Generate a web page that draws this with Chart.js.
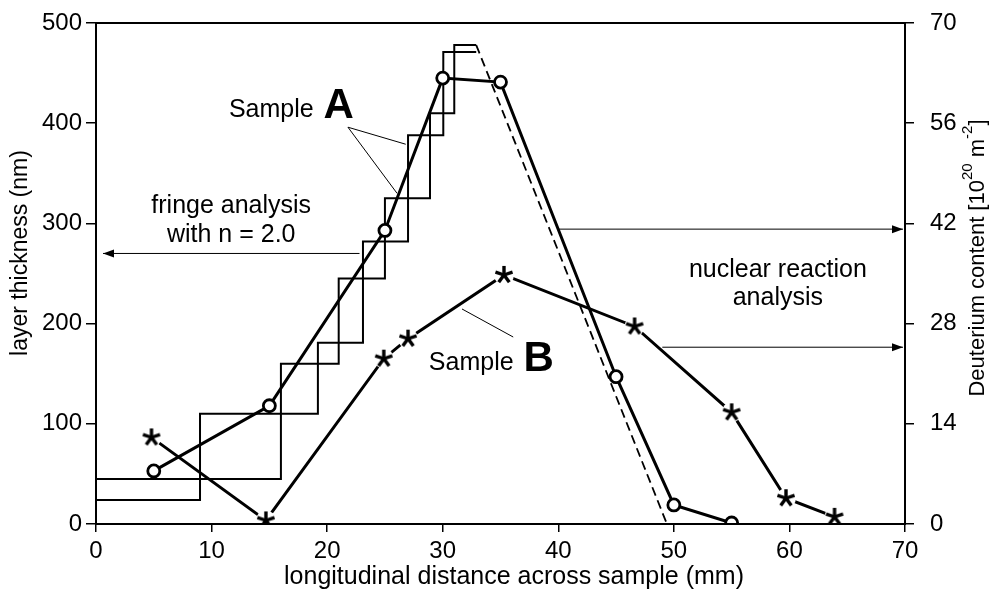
<!DOCTYPE html>
<html>
<head>
<meta charset="utf-8">
<script src="https://cdn.jsdelivr.net/npm/chart.js@4.4.0/dist/chart.umd.min.js"></script>
<style>
    html, body { margin: 0; padding: 0; background: #fff; }
    canvas { display: block; }
</style>
</head>
<body>
<canvas id="grafico" width="999" height="590"></canvas>
<script>
// degraus da analise de franjas (nm)
const bordasDegrauA = [0, 9, 19.2, 23.1, 27.0, 30.05, 32.9];
const niveisDegrauA = [24, 110, 181, 282, 388, 471];
const bordasDegrauB = [0, 16, 21, 25, 28.9, 31, 32.9];
const niveisDegrauB = [45, 160, 245, 325, 410, 478];

// flanco tracejado
const tracejadoX = [32.9, 49.4];
const tracejadoY = [478, 0];

// amostra A, espessura (nm)
const circulosX = [5, 15, 25, 30, 35, 45, 50, 55];
const circulosY = [53, 118, 293, 445, 441, 147, 19, 1];

// amostra B, deuterio (10^20 m^-2)
const estrelasX = [4.8, 14.7, 24.9, 27.0, 35.3, 46.6, 55.0, 59.7, 63.9];
const estrelasD = [12.1, 0.5, 23.1, 25.9, 34.8, 27.6, 15.6, 3.6, 1.0];

const ticksX = [0, 10, 20, 30, 40, 50, 60, 70];
const ticksEsquerda = [0, 100, 200, 300, 400, 500];
const ticksDireita = [0, 14, 28, 42, 56, 70];

const FONTE = '"Liberation Sans", Arial, Helvetica, sans-serif';

function pontosDegrau(bordas, niveis) {
    const pts = niveis.map((n, i) => ({ x: bordas[i], y: n }));
    pts.push({ x: bordas[bordas.length - 1], y: niveis[niveis.length - 1] });
    return pts;
}

function juntar(xs, ys) {
    return xs.map((x, i) => ({ x: x, y: ys[i] }));
}

function criarEstrela(tam, esp) {
    const c = document.createElement('canvas');
    c.width = tam;
    c.height = tam;
    const g = c.getContext('2d');
    g.strokeStyle = '#000';
    g.lineWidth = esp;
    const r = tam / 2;
    for (let k = 0; k < 5; k++) {
        const ang = -Math.PI / 2 + k * 2 * Math.PI / 5;
        g.beginPath();
        g.moveTo(r, r);
        g.lineTo(r + Math.cos(ang) * (r - 1), r + Math.sin(ang) * (r - 1));
        g.stroke();
    }
    return c;
}

const estrela = criarEstrela(20, 3.4);

function seta(ctx, x1, y1, x2, y2) {
    ctx.beginPath();
    ctx.moveTo(x1, y1);
    ctx.lineTo(x2, y2);
    ctx.stroke();
    const dir = Math.sign(x2 - x1);
    ctx.beginPath();
    ctx.moveTo(x2, y2);
    ctx.lineTo(x2 - dir * 11, y2 - 4);
    ctx.lineTo(x2 - dir * 11, y2 + 4);
    ctx.closePath();
    ctx.fill();
}

const anotacoes = {
    id: 'anotacoes',
    afterDatasetsDraw(chart) {
        const { ctx, chartArea: a, scales } = chart;
        const px = v => scales.x.getPixelForValue(v);
        const py = v => scales.y.getPixelForValue(v);
        const pd = v => scales.y2.getPixelForValue(v);

        ctx.save();
        ctx.strokeStyle = '#000';
        ctx.fillStyle = '#000';
        ctx.lineWidth = 2;
        ctx.strokeRect(a.left, a.top, a.right - a.left, a.bottom - a.top);

        // linhas finas
        ctx.lineWidth = 1;
        ctx.beginPath();
        ctx.moveTo(px(26.8), py(379));
        ctx.lineTo(px(21.8), py(396));
        ctx.lineTo(px(26.05), py(330));
        ctx.moveTo(px(31.67), py(214.6));
        ctx.lineTo(px(36.1), py(186.6));
        ctx.stroke();

        seta(ctx, px(22.8), py(270), a.left + 7, py(270));
        seta(ctx, px(40.0), pd(41.2), a.right - 2, pd(41.2));
        seta(ctx, px(49.0), pd(24.7), a.right - 2, pd(24.7));

        // textos
        ctx.textBaseline = 'alphabetic';
        ctx.font = '25px ' + FONTE;
        ctx.textAlign = 'left';
        let x0 = px(11.5);
        ctx.fillText('Sample', x0, py(406));
        let w = ctx.measureText('Sample ').width;
        ctx.font = 'bold 42px ' + FONTE;
        ctx.fillText('A', x0 + w + 3, py(406) + 1);

        ctx.font = '25px ' + FONTE;
        x0 = px(28.8);
        ctx.fillText('Sample', x0, py(153.7));
        w = ctx.measureText('Sample ').width;
        ctx.font = 'bold 42px ' + FONTE;
        ctx.fillText('B', x0 + w + 3, py(153.7) + 1);

        ctx.font = '25px ' + FONTE;
        ctx.textAlign = 'center';
        ctx.fillText('fringe analysis', px(11.7), py(310));
        ctx.fillText('with n = 2.0', px(11.7), py(281));
        ctx.fillText('nuclear reaction', px(59.0), py(246.5));
        ctx.fillText('analysis', px(59.0), py(218.5));

        // titulos dos eixos
        ctx.font = '25px ' + FONTE;
        ctx.textBaseline = 'middle';
        ctx.fillText('longitudinal distance across sample (mm)', 514, 577);

        ctx.font = '23px ' + FONTE;
        ctx.save();
        ctx.translate(21, 253);
        ctx.rotate(-Math.PI / 2);
        ctx.fillText('layer thickness (nm)', 0, 0);
        ctx.restore();

        const partes = [
            { t: 'Deuterium content [10', sup: false },
            { t: '20', sup: true },
            { t: ' m', sup: false },
            { t: '-2', sup: true },
            { t: ']', sup: false }
        ];
        const fN = '22px ' + FONTE, fS = '15px ' + FONTE;
        let total = 0;
        partes.forEach(p => {
            ctx.font = p.sup ? fS : fN;
            p.w = ctx.measureText(p.t).width;
            total += p.w;
        });
        ctx.save();
        ctx.translate(978, 258);
        ctx.rotate(-Math.PI / 2);
        ctx.textAlign = 'left';
        let u = -total / 2;
        partes.forEach(p => {
            ctx.font = p.sup ? fS : fN;
            ctx.fillText(p.t, u, p.sup ? -10 : 0);
            u += p.w;
        });
        ctx.restore();

        ctx.restore();
    }
};

const gradeEixo = comp => ({
    display: true,
    drawOnChartArea: false,
    drawTicks: true,
    tickLength: comp,
    color: '#000',
    lineWidth: 1.5
});

new Chart(document.getElementById('grafico').getContext('2d'), {
    type: 'line',
    data: {
        datasets: [
            {
                data: pontosDegrau(bordasDegrauA, niveisDegrauA),
                stepped: true,
                borderColor: '#000',
                borderWidth: 2,
                pointRadius: 0,
                fill: false,
                yAxisID: 'y',
                order: 8
            },
            {
                data: pontosDegrau(bordasDegrauB, niveisDegrauB),
                stepped: true,
                borderColor: '#000',
                borderWidth: 2,
                pointRadius: 0,
                fill: false,
                yAxisID: 'y',
                order: 7
            },
            {
                data: juntar(tracejadoX, tracejadoY),
                borderColor: '#000',
                borderWidth: 1.8,
                borderDash: [9, 5],
                pointRadius: 0,
                fill: false,
                yAxisID: 'y',
                order: 6
            },
            {
                data: juntar(estrelasX, estrelasD),
                borderColor: '#000',
                borderWidth: 3,
                pointRadius: 0,
                fill: false,
                yAxisID: 'y2',
                order: 5
            },
            {
                data: juntar(estrelasX, estrelasD),
                showLine: false,
                pointRadius: 10,
                pointBorderWidth: 0,
                pointBackgroundColor: '#fff',
                pointBorderColor: '#fff',
                yAxisID: 'y2',
                order: 4
            },
            {
                data: juntar(estrelasX, estrelasD),
                showLine: false,
                pointStyle: estrela,
                pointRadius: 10,
                yAxisID: 'y2',
                order: 3
            },
            {
                data: juntar(circulosX, circulosY),
                borderColor: '#000',
                borderWidth: 3,
                pointRadius: 6,
                pointBorderWidth: 2.8,
                pointBackgroundColor: '#fff',
                pointBorderColor: '#000',
                fill: false,
                yAxisID: 'y',
                order: 1
            }
        ]
    },
    options: {
        responsive: false,
        animation: false,
        layout: { padding: { top: 23, left: 0, right: 0, bottom: 0 } },
        plugins: {
            legend: { display: false },
            tooltip: { enabled: false }
        },
        scales: {
            x: {
                type: 'linear',
                position: 'bottom',
                min: 0,
                max: 70,
                afterBuildTicks: s => { s.ticks = ticksX.map(v => ({ value: v })); },
                afterFit: s => { s.height = 66; },
                grid: gradeEixo(8),
                border: { display: true, color: '#000', width: 2 },
                ticks: { color: '#000', font: { family: FONTE, size: 24 }, padding: 5, maxRotation: 0 }
            },
            y: {
                type: 'linear',
                position: 'left',
                min: 0,
                max: 500,
                afterBuildTicks: s => { s.ticks = ticksEsquerda.map(v => ({ value: v })); },
                afterFit: s => { s.width = 96; },
                grid: gradeEixo(10),
                border: { display: true, color: '#000', width: 2 },
                ticks: { color: '#000', font: { family: FONTE, size: 24, lineHeight: 0.5 }, padding: 4 }
            },
            y2: {
                type: 'linear',
                position: 'right',
                min: 0,
                max: 70,
                afterBuildTicks: s => { s.ticks = ticksDireita.map(v => ({ value: v })); },
                afterFit: s => { s.width = 94; },
                grid: gradeEixo(9),
                border: { display: true, color: '#000', width: 2 },
                ticks: { color: '#000', font: { family: FONTE, size: 24, lineHeight: 0.5 }, padding: 16 }
            }
        }
    },
    plugins: [anotacoes]
});
</script>
</body>
</html>
